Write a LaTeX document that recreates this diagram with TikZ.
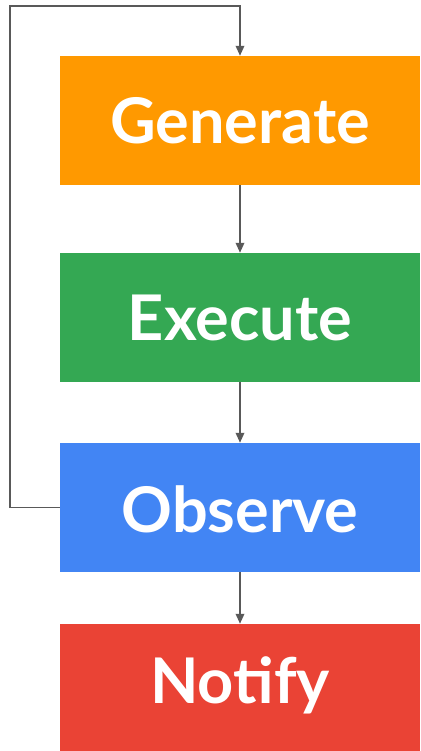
\documentclass[tikz,border=0pt]{standalone}
\usepackage{fontspec}
\setmainfont{Lato}
\usetikzlibrary{arrows.meta}
\definecolor{gorange}{HTML}{FF9900}
\definecolor{ggreen}{HTML}{34A853}
\definecolor{gblue}{HTML}{4285F4}
\definecolor{gred}{HTML}{EA4335}
\definecolor{linkgray}{HTML}{595959}
\tikzset{
  stage/.style={rectangle, minimum width=360pt, minimum height=129pt, inner sep=0pt,
    text=white, text height=46pt, text depth=0pt,
    font=\fontsize{63}{72}\selectfont\bfseries},
  link/.style={draw=linkgray, line width=1.8pt, -{Triangle[width=8.5pt,length=10pt]}}
}
\begin{document}
\begin{tikzpicture}[x=1pt,y=-1pt]
  \useasboundingbox (0,0) rectangle (420,751);
  \node[stage, fill=gorange] (gen) at (240,120.5) {Generate};
  \node[stage, fill=ggreen]  (exe) at (240,317.5) {Execute};
  \node[stage, fill=gblue, text height=49pt] (obs) at (240,507.5) {Observe};
  \node[stage, fill=gred, minimum height=127pt, text height=31pt] (ntf) at (240,687.5) {Notify};
  \coordinate (loop) at (10,6);
  \draw[link] (gen) -- (exe);
  \draw[link] (exe) -- (obs);
  \draw[link] (obs) -- (ntf);
  \draw[link] (obs.west) -| (loop) -| (gen.north);
\end{tikzpicture}
\end{document}
